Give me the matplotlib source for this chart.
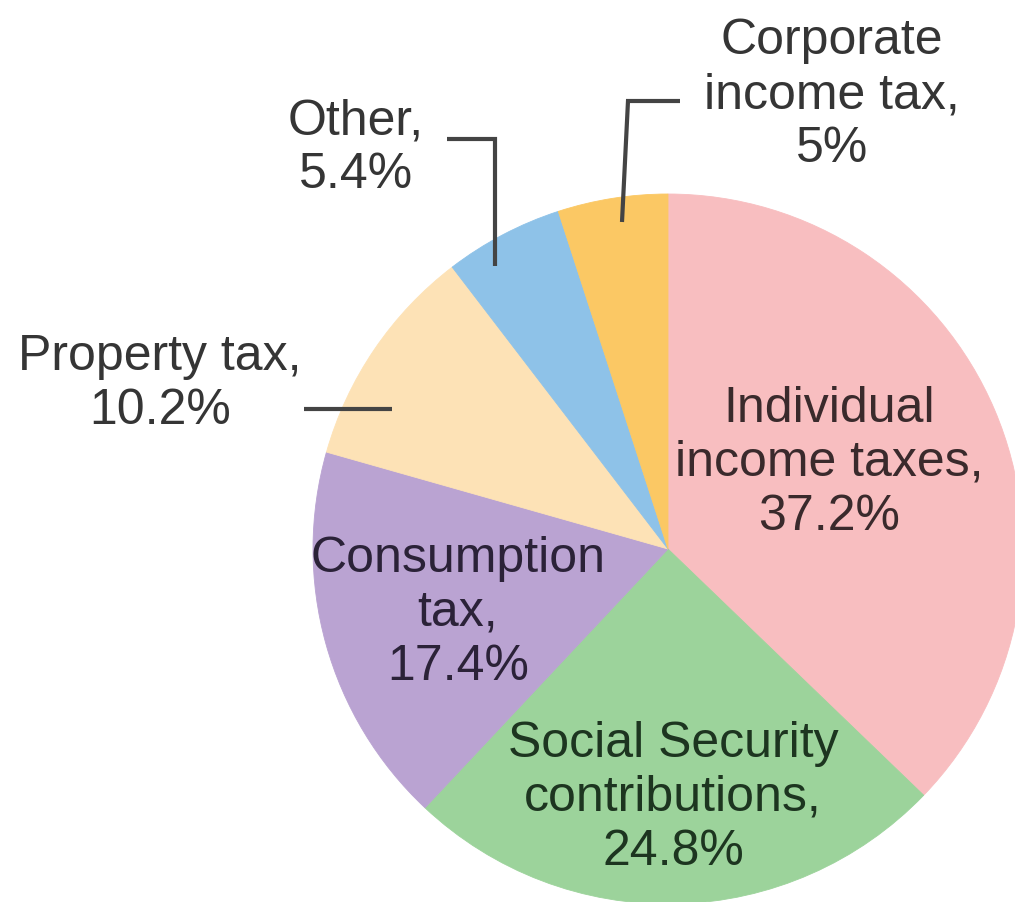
import matplotlib
import matplotlib.pyplot as plt

matplotlib.use('Agg')

# Udziały poszczególnych źródeł dochodów podatkowych (%), zgodnie z ruchem wskazówek od godziny 12
categories = ['Individual income taxes', 'Social Security contributions', 'Consumption tax',
              'Property tax', 'Other', 'Corporate income tax']
shares = [37.2, 24.8, 17.4, 10.2, 5.4, 5.0]
labels = ['Individual\nincome taxes,\n37.2%',
          'Social Security\ncontributions,\n24.8%',
          'Consumption\ntax,\n17.4%',
          'Property tax,\n10.2%',
          'Other,\n5.4%',
          'Corporate\nincome tax,\n5%']
colors = ['#F8BEC0', '#9CD39B', '#BAA3D2', '#FDE2B6', '#8EC2E8', '#FBC864']
text_colors = ['#3a2a2c', '#1d3520', '#2b2238', '#353535', '#353535', '#353535']

W, H = 1015, 903

fig = plt.figure(figsize=(W / 100, H / 100), dpi=100)
ax = fig.add_axes([0, 0, 1, 1])

cx, cy, r = 668, H - 550, 355
ax.pie(shares, colors=colors, startangle=90, counterclock=False,
       center=(cx, cy), radius=r,
       wedgeprops=dict(linewidth=0.6, edgecolor='none'))
for w, c in zip(ax.patches, colors):
    w.set_edgecolor(c)

ax.set_xlim(0, W)
ax.set_ylim(0, H)
ax.set_aspect('equal')
ax.axis('off')

# pozycje etykiet (x, y od góry obrazka)
label_pos = [(829, 463), (673, 798), (458, 613), (160, 384), (356, 148), (832, 95)]
for txt, (x, y), tc in zip(labels, label_pos, text_colors):
    ax.text(x, H - y, txt, ha='center', va='center', fontsize=36,
            family='Liberation Sans', color=tc, linespacing=1.22)

# linie odniesienia
leaders = [
    [(304, 410), (392, 410)],                 # Property tax
    [(447, 140), (495, 140), (495, 267)],     # Other
    [(680, 102), (628, 102), (622, 223)],     # Corporate
]
for pts in leaders:
    xs = [p[0] for p in pts]
    ys = [H - p[1] for p in pts]
    ax.plot(xs, ys, color='#444444', linewidth=3, solid_joinstyle='miter',
            solid_capstyle='butt')

fig.savefig('out.png', dpi=100, facecolor='white')
